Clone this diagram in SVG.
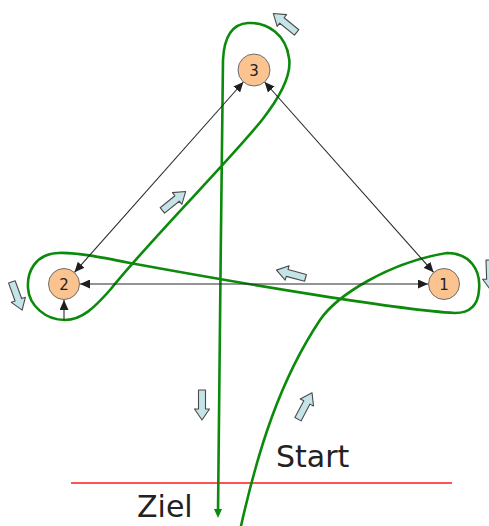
<svg xmlns="http://www.w3.org/2000/svg" width="489" height="526" viewBox="0 0 489 526">
<style>
.node circle{fill:#fac38f;stroke:#6e6e6e;stroke-width:1}
.node text{font-family:"DejaVu Sans","Liberation Sans",sans-serif;font-size:15px;fill:#222;text-anchor:middle}
.conn{stroke:#2a2a2a;stroke-width:1.1;fill:none}
.route{stroke:#0c8a0c;stroke-width:2.6;fill:none;stroke-linecap:round;stroke-linejoin:round}
.hint{fill:#c4e4e8;stroke:#4a4a4a;stroke-width:1.1;stroke-linejoin:round}
.label{font-family:"DejaVu Sans","Liberation Sans",sans-serif;font-size:30px;fill:#222}
</style>
<defs>
<marker id="ah" markerUnits="userSpaceOnUse" markerWidth="11" markerHeight="9" refX="10" refY="4.5" orient="auto-start-reverse">
<path d="M0,0 L10,4.5 L0,9 z" fill="#1e1e1e"/>
</marker>
<marker id="gh" markerUnits="userSpaceOnUse" markerWidth="10" markerHeight="10" refX="5" refY="5" orient="auto">
<path d="M0,1 L9,5 L0,9 z" fill="#0c8a0c"/>
</marker>
<path id="blk" d="M-15,-3.5 L4,-3.5 L4,-7.5 L15,0 L4,7.5 L4,3.5 L-15,3.5 Z"/>
</defs>

<line x1="71" y1="483" x2="452" y2="483" stroke="#ff1a1a" stroke-width="1.4"/>

<g id="route">
<path class="route" marker-end="url(#gh)" d="M241,526 C258,450 280,380 320,320 C337,295 390,262 447,253 C470,253 481,270 479,290 C478,305 470,313 455,313 C400,310 250,285 130,263 C100,257 75,252 58,253 C35,254 27,272 28,288 C29,305 45,320 65,320 C82,320 95,307 110,290 C150,240 230,160 262,120 C280,97 292,75 289,58 C286,35 268,22 248,23 C232,24 224,38 223,60 C222,200 218,400 218,514"/>
</g>

<g id="connectors">
<line class="conn" x1="74.5" y1="272.3" x2="243.4" y2="82" marker-start="url(#ah)" marker-end="url(#ah)"/>
<line class="conn" x1="264.6" y1="82" x2="433.6" y2="272.3" marker-start="url(#ah)" marker-end="url(#ah)"/>
<line class="conn" x1="80" y1="284" x2="428" y2="284" marker-start="url(#ah)" marker-end="url(#ah)"/>
<line class="conn" x1="64" y1="320" x2="64" y2="300" marker-end="url(#ah)"/>
</g>

<g id="node1" class="node"><circle cx="444" cy="284" r="15.5"/><text x="444" y="289.5">1</text></g>
<g id="node2" class="node"><circle cx="64" cy="284" r="15.5"/><text x="64" y="289.5">2</text></g>
<g id="node3" class="node"><circle cx="254" cy="70" r="16"/><text x="254" y="75.5">3</text></g>

<g id="direction-hints">
<use href="#blk" class="hint" transform="translate(285,23) rotate(219)"/>
<use href="#blk" class="hint" transform="translate(17,296) rotate(70)"/>
<use href="#blk" class="hint" transform="translate(490,275) rotate(88)"/>
<use href="#blk" class="hint" transform="translate(291,274) rotate(195)"/>
<use href="#blk" class="hint" transform="translate(174,201) rotate(-39)"/>
<use href="#blk" class="hint" transform="translate(202,405) rotate(90)"/>
<use href="#blk" class="hint" transform="translate(305,406) rotate(-62)"/>
</g>

<text class="label" x="276" y="467">Start</text>
<text class="label" x="137" y="517">Ziel</text>
</svg>
